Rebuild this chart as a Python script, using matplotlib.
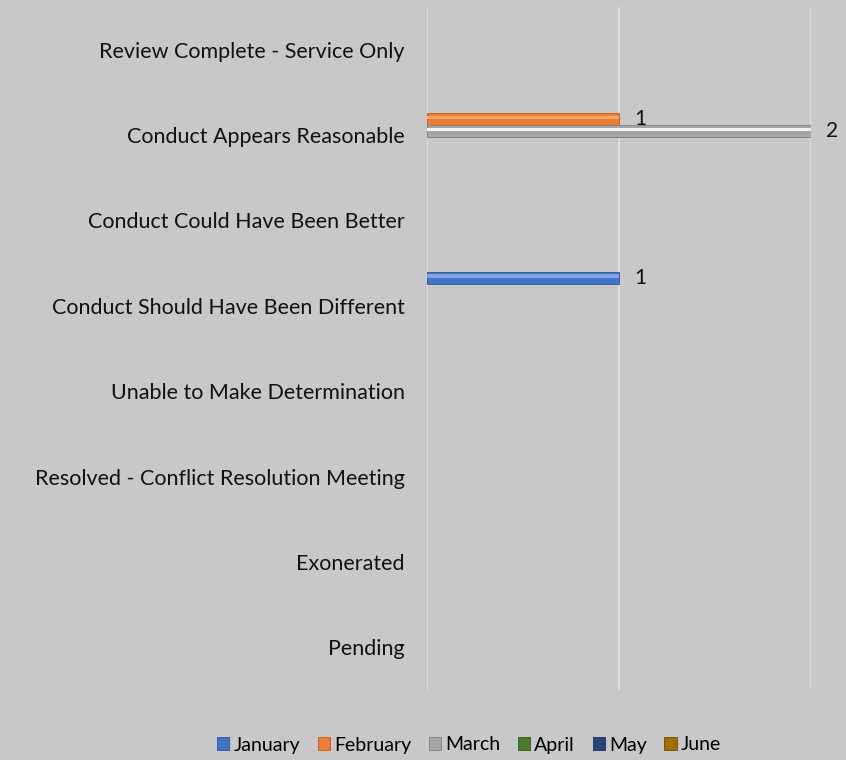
import matplotlib
matplotlib.use("Agg")
import matplotlib.pyplot as plt
import numpy as np
from matplotlib.patches import Patch

categories = ["Review Complete - Service Only", "Conduct Appears Reasonable",
              "Conduct Could Have Been Better", "Conduct Should Have Been Different",
              "Unable to Make Determination", "Resolved - Conflict Resolution Meeting",
              "Exonerated", "Pending"]
months = ["January", "February", "March", "April", "May", "June"]
# counts per month, one value per category
january = [0, 0, 0, 1, 0, 0, 0, 0]
february = [0, 1, 0, 0, 0, 0, 0, 0]
march = [0, 2, 0, 0, 0, 0, 0, 0]
april = [0, 0, 0, 0, 0, 0, 0, 0]
may = [0, 0, 0, 0, 0, 0, 0, 0]
june = [0, 0, 0, 0, 0, 0, 0, 0]
series = [january, february, march, april, may, june]

colors = ["#4472C4", "#ED7D31", "#A5A5A5", "#4E7A2E", "#264478", "#9E7000"]
lights = ["#7EA3E6", "#F7A868", "#F2F2F2", "#6E9A4E", "#4A6AA0", "#C09020"]
darks = ["#2F528F", "#B85F20", "#7F7F7F", "#385723", "#1A2F55", "#6E4E00"]

bg = "#C8C8C8"
plt.rcParams['font.family'] = ['Lato', 'DejaVu Sans']

fig = plt.figure(figsize=(8.46, 7.6), dpi=100, facecolor=bg)
ax = fig.add_axes([427/846, 1 - 690/760, (811-427)/846, (690-7)/760], facecolor=bg)

y = np.arange(len(categories))
bh = 0.14
for i, vals in enumerate(series):
    vals = np.array(vals)
    nz = vals > 0
    if not nz.any():
        continue
    pos = y[nz] - 0.40 + bh * (i + 0.5)
    v = vals[nz]
    ax.barh(pos, v, height=bh, color=colors[i], edgecolor=darks[i], linewidth=0.6, zorder=3)
    # highlight stripe for the glossy look
    ax.barh(pos - bh * 0.12, v, height=bh * 0.3, color=lights[i], linewidth=0, zorder=4)
    for p, val in zip(pos, v):
        ax.text(val + 0.08, p + 0.005, str(val), va="center", ha="left", fontsize=15,
                color="#111111", zorder=5)

ax.set_ylim(len(categories) - 0.5, -0.5)
ax.set_xlim(0, 2)
ax.set_xticks([0, 1, 2])
ax.xaxis.grid(True, color="#DCDCDC", linewidth=1.5, zorder=0)
ax.tick_params(axis="x", length=0, labelbottom=False)
ax.tick_params(axis="y", length=0, pad=16)
ax.set_yticks(y)
ax.set_yticklabels(categories, fontsize=15.5, color="#111111")
for s in ax.spines.values():
    s.set_visible(False)

handles = [Patch(facecolor=c, edgecolor=d, linewidth=0.6) for c, d in zip(colors, darks)]
fig.legend(handles, months, loc="center", bbox_to_anchor=(469/846, 1 - 745/760), ncol=6,
           frameon=False, fontsize=14, handlelength=0.65, handleheight=0.65,
           handletextpad=0.2, columnspacing=0.9)

fig.savefig("out.png", dpi=100, facecolor=bg)
